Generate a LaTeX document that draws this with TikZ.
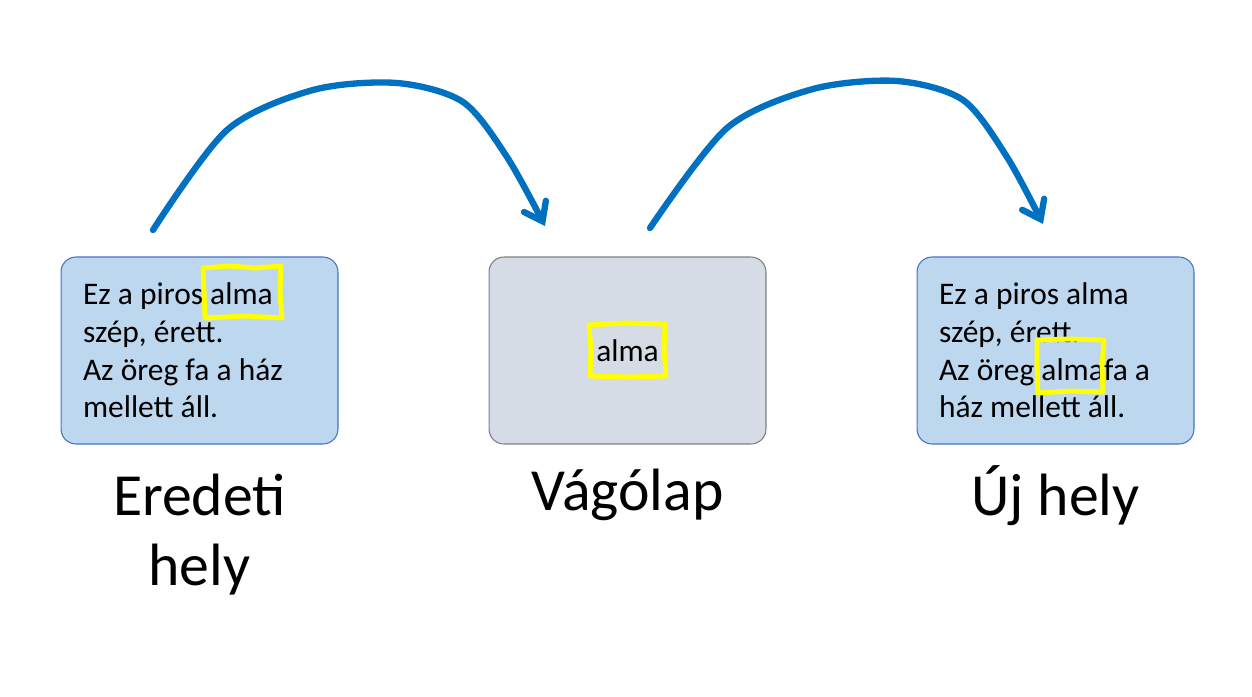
\documentclass[tikz,border=0pt]{standalone}
\usepackage{fontspec}
\setmainfont{Carlito}
\usetikzlibrary{arrows.meta}
\definecolor{dobozkek}{HTML}{BDD7EE}
\definecolor{keretkek}{HTML}{4472C4}
\definecolor{vagoszurke}{HTML}{D6DCE5}
\definecolor{keretszurke}{HTML}{7F7F7F}
\definecolor{nyilkek}{HTML}{0070C0}
\definecolor{kiemel}{HTML}{FFFF00}
\begin{document}
\begin{tikzpicture}[x=0.02cm,y=-0.02cm,
  doboz/.style={draw=keretkek,fill=dobozkek,line width=0.6pt,rounded corners=0.3cm,
    minimum width=5.54cm,minimum height=3.74cm,inner sep=0pt,
    font=\fontsize{17.9}{21.4}\selectfont},
  szoveg/.style={doboz,text width=4.66cm,align=flush left},
  vago/.style={doboz,draw=keretszurke,fill=vagoszurke},
  felirat/.style={anchor=base,align=center,font=\fontsize{34}{39.5}\selectfont},
  jelol/.style={draw=kiemel,line width=2.8pt,line join=round},
  nyil/.style={draw=nyilkek,line width=3.6pt,line cap=round,
    ->,>={Straight Barb[length=9.5pt,width=14pt,line cap=round]}}]
\useasboundingbox (0,0) rectangle (1252,697);
% a harom hely
\node[szoveg] (eredeti) at (199.5,350.5) {Ez a piros alma\\szép, érett.\\Az öreg fa a ház\\mellett áll.};
\node[vago] (vagolap) at (627.5,350.5) {alma};
\node[szoveg] (uj) at (1055.5,350.5) {Ez a piros alma\\szép, érett.\\Az öreg almafa a\\ház mellett áll.};
% feliratok
\node[felirat] (feleredeti) at (199.5,585) {Eredeti\\hely};
\node[felirat] (felvago) at (627.5,510) {Vágólap};
\node[felirat] (feluj) at (1055.5,515) {Új hely};
% kiemelt szo
\draw[jelol] (203,268) -- (230,266) -- (255,268) -- (281,266) -- (280,292) -- (282,318) -- (245,316) -- (205,318) -- (204,292) -- cycle;
\draw[jelol] (589,325) -- (625,323) -- (665,324) -- (664,350) -- (666,376) -- (628,377) -- (590,376) -- (591,350) -- cycle;
\draw[jelol] (1037,340) -- (1070,339) -- (1104,340) -- (1102,366) -- (1103,392) -- (1070,391) -- (1038,393) -- (1037,366) -- cycle;
% nyilak
\coordinate (ki1) at (153,230);
\coordinate (be1) at (545,226);
\coordinate (ki2) at (650,228);
\coordinate (be2) at (1043,224);
\draw[nyil] plot[smooth,tension=0.5] coordinates {(ki1) (227,130) (313,90) (397,83) (463,102) (507,157) (be1)};
\draw[nyil] plot[smooth,tension=0.5] coordinates {(ki2) (727,128) (813,89) (897,81) (963,100) (1007,157) (be2)};
\end{tikzpicture}
\end{document}
